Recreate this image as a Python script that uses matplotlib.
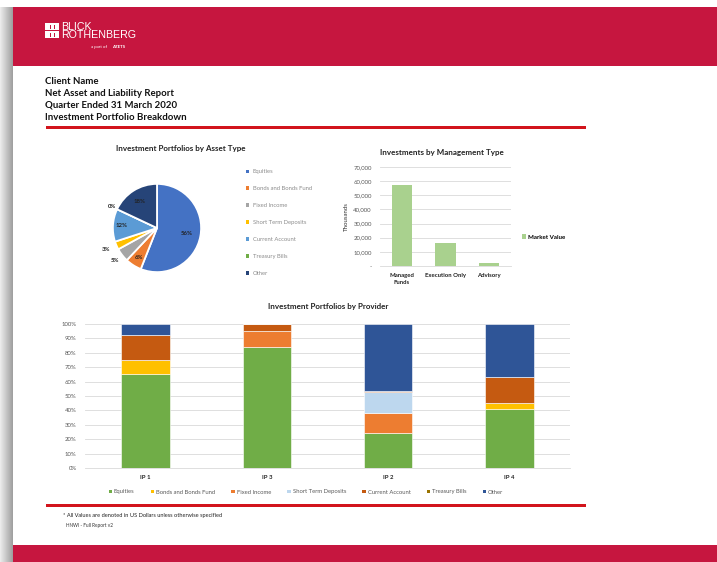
import numpy as np
import matplotlib.pyplot as plt
from matplotlib.patches import Rectangle, Patch

plt.rcParams['font.family'] = ['Lato', 'DejaVu Sans']

W, H = 717, 562

# pie data
pie_labels = ['Equities', 'Bonds and Bonds Fund', 'Fixed Income', 'Short Term Deposits',
              'Current Account', 'Treasury Bills', 'Other']
pie_values = [56, 6, 5, 3, 12, 0, 18]
pie_colors = ['#4472C4', '#ED7D31', '#A5A5A5', '#FFC000', '#5B9BD5', '#70AD47', '#264478']
pie_label_dist = [0.68, 0.78, 1.22, 1.25, 0.8, 1.12, 0.72]

# management type bar data (thousands)
mgmt_types = ['Managed\nFunds', 'Execution Only', 'Advisory']
mgmt_values = [57500, 16500, 2200]

# provider stacked data (%)
providers = ['IP 1', 'IP 3', 'IP 2', 'IP 4']
stack_labels = ['Equities', 'Bonds and Bonds Fund', 'Fixed Income', 'Short Term Deposits',
                'Current Account', 'Treasury Bills', 'Other']
stack_values = {
    'Equities':             [65, 84, 24, 41],
    'Bonds and Bonds Fund': [10, 0, 0, 4],
    'Fixed Income':         [0, 11, 14, 0],
    'Short Term Deposits':  [0, 0, 15, 0],
    'Current Account':      [17.5, 5, 0.6, 18.5],
    'Treasury Bills':       [0, 0, 0, 0],
    'Other':                [7.5, 0, 46.4, 36.5],
}
stack_colors = ['#70AD47', '#FFC000', '#ED7D31', '#BDD7EE', '#C55A11', '#997300', '#2F5597']

RED = '#C6163F'
LINE_RED = '#D2141C'
GRID = '#D9D9D9'


def px_axes(fig, x0, y0, x1, y1):
    return fig.add_axes([x0 / W, 1 - y1 / H, (x1 - x0) / W, (y1 - y0) / H])


fig = plt.figure(figsize=(W / 100, H / 100), dpi=100)

# page background, shadow, header and footer bands
bg = fig.add_axes([0, 0, 1, 1])
bg.set_xlim(0, W)
bg.set_ylim(H, 0)
bg.axis('off')
shade = np.linspace(0.93, 0.62, 50).reshape(1, -1)
bg.imshow(shade, cmap='gray', vmin=0, vmax=1, extent=(0, 13, H, 7), aspect='auto')
bg.add_patch(Rectangle((13, 7), W - 13, 59, color=RED, lw=0))
bg.add_patch(Rectangle((13, 545), W - 13, 20, color=RED, lw=0))
bg.add_patch(Rectangle((46, 126), 540, 2.5, color=LINE_RED, lw=0))
bg.add_patch(Rectangle((46, 504), 540, 2.5, color=LINE_RED, lw=0))

# logo
for i, yy in enumerate([23, 31]):
    bg.add_patch(Rectangle((45, yy), 14, 7, facecolor='white', lw=0))
    bg.add_patch(Rectangle((50, yy + 1.5), 1.2, 4, facecolor=RED, lw=0))
    bg.add_patch(Rectangle((54, yy + 1.5), 1.2, 4, facecolor=RED, lw=0))
bg.text(61, 27, 'BLICK', color='white', fontsize=7.7, va='center', ha='left',
        family='Liberation Sans')
bg.text(61, 35.5, 'ROTHENBERG', color='white', fontsize=7.7, va='center', ha='left',
        family='Liberation Sans')
bg.text(91, 47, 'a part of ', color='white', fontsize=3.2, va='center', ha='left')
bg.text(112, 47, 'AZETS', color='white', fontsize=3.2, va='center', ha='left', weight='bold')

header = ['Client Name', 'Net Asset and Liability Report', 'Quarter Ended 31 March 2020',
          'Investment Portfolio Breakdown']
for i, t in enumerate(header):
    bg.text(45, 81 + i * 12, t, fontsize=6.9, weight='bold', va='center', ha='left', color='#111111')

bg.text(63, 516, '* All Values are denoted in US Dollars unless otherwise specified',
        fontsize=4.1, va='center', color='#222222')
bg.text(66, 525, 'HNWI - Full Report v2', fontsize=3.4, va='center', color='#333333')

# pie chart
bg.text(181, 149, 'Investment Portfolios by Asset Type', fontsize=5.8, weight='bold',
        ha='center', va='center', color='#222222')
axp = px_axes(fig, 112, 183, 202, 273)
wedges, _ = axp.pie(pie_values, colors=pie_colors, startangle=90, counterclock=False,
                    radius=1, wedgeprops=dict(edgecolor='white', linewidth=1.3))
axp.set_xlim(-1.02, 1.02)
axp.set_ylim(-1.02, 1.02)
axp.set_aspect('equal')
axp.axis('off')
total = sum(pie_values)
ang = 90.0
for v, d in zip(pie_values, pie_label_dist):
    span = 360.0 * v / total
    mid = np.deg2rad(ang - span / 2)
    axp.text(d * np.cos(mid), d * np.sin(mid), f'{v}%', fontsize=4.3, weight='bold',
             ha='center', va='center', color='#222222', clip_on=False)
    ang -= span
pie_handles = [Patch(facecolor=c, edgecolor='none') for c in pie_colors]
fig.legend(pie_handles, pie_labels, loc='upper left', bbox_to_anchor=(241 / W, 1 - 164 / H),
           frameon=False, fontsize=4.2, handlelength=0.5, handleheight=0.5,
           handletextpad=0.6, labelspacing=2.05, labelcolor='#8C8C8C')

# management type bars
bg.text(442, 152, 'Investments by Management Type', fontsize=5.8, weight='bold',
        ha='center', va='center', color='#222222')
axm = px_axes(fig, 380, 167, 511, 266)
xm = np.arange(len(mgmt_types))
axm.bar(xm, mgmt_values, width=0.46, color='#A9D18E', zorder=3)
axm.set_xlim(-0.5, 2.5)
axm.set_ylim(0, 70000)
axm.set_yticks(np.arange(0, 70001, 10000))
axm.set_yticklabels(['-'] + [f'{v:,}' for v in range(10000, 70001, 10000)])
axm.set_xticks(xm)
axm.set_xticklabels(mgmt_types, fontsize=4.3, weight='bold', color='#222222', linespacing=1.5)
axm.tick_params(axis='y', labelsize=4.3, labelcolor='#595959', length=0, pad=6)
axm.tick_params(axis='x', length=0, pad=5)
axm.grid(axis='y', color=GRID, lw=0.6, zorder=0)
for s in ['top', 'right', 'left']:
    axm.spines[s].set_visible(False)
axm.spines['bottom'].set_color(GRID)
axm.spines['bottom'].set_linewidth(0.6)
axm.set_ylabel('Thousands', fontsize=4.4, color='#333333', labelpad=3)
fig.legend(handles=[Patch(facecolor='#A9D18E', edgecolor='none')], labels=['Market Value'],
           loc='center left', bbox_to_anchor=(516 / W, 1 - 237 / H), frameon=False,
           handlelength=0.7, handleheight=0.7, handletextpad=0.4,
           prop=dict(weight='bold', size=4.4))

# provider stacked bars
bg.text(328, 306, 'Investment Portfolios by Provider', fontsize=5.8, weight='bold',
        ha='center', va='center', color='#222222')
axs = px_axes(fig, 85, 324, 570, 468)
xs = np.arange(len(providers))
bottom = np.zeros(len(providers))
handles = []
for lab, col in zip(stack_labels, stack_colors):
    vals = np.array(stack_values[lab])
    axs.bar(xs, vals, 0.4, bottom=bottom, color=col, edgecolor='white', linewidth=0.4, zorder=3)
    handles.append(Patch(facecolor=col, label=lab))
    bottom += vals
axs.set_xlim(-0.5, 3.5)
axs.set_ylim(0, 100)
axs.set_yticks(np.arange(0, 101, 10))
axs.set_yticklabels([f'{v}%' for v in range(0, 101, 10)])
axs.set_xticks(xs)
axs.set_xticklabels(providers, fontsize=4.3, weight='bold', color='#222222')
axs.tick_params(axis='y', labelsize=4.3, labelcolor='#595959', length=0, pad=6)
axs.tick_params(axis='x', length=0, pad=5)
axs.grid(axis='y', color=GRID, lw=0.6, zorder=0)
for s in ['top', 'right', 'left']:
    axs.spines[s].set_visible(False)
axs.spines['bottom'].set_color(GRID)
axs.spines['bottom'].set_linewidth(0.6)
fig.legend(handles=handles, loc='center', bbox_to_anchor=(306 / W, 1 - 492 / H), ncol=7,
           frameon=False, fontsize=4.2, handlelength=0.6, handleheight=0.6,
           handletextpad=0.3, columnspacing=2.8, labelcolor='#595959')

fig.savefig('out.png', dpi=100)
